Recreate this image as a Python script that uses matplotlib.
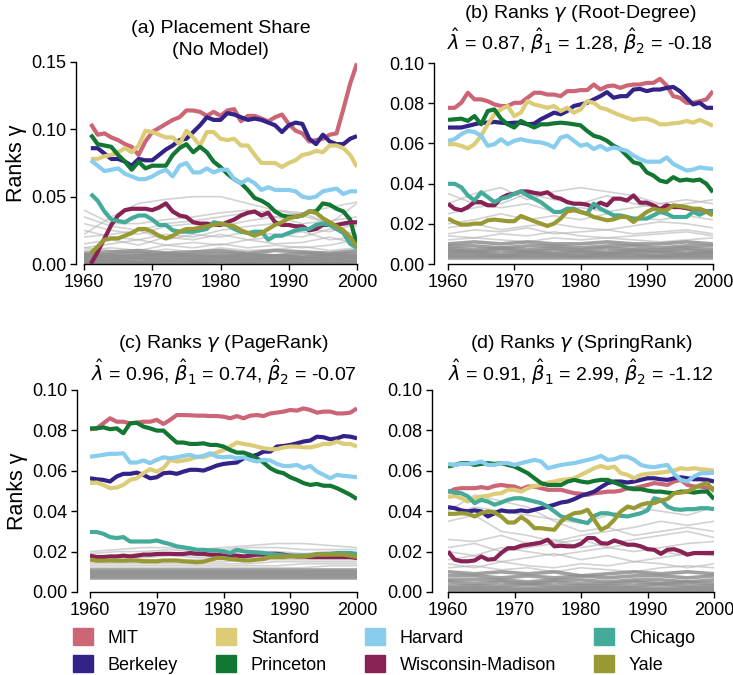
import numpy as np
import matplotlib
matplotlib.use("Agg")
import matplotlib.pyplot as plt
from matplotlib.patches import Patch

plt.rcParams['font.family'] = ['Liberation Sans', 'DejaVu Sans']
plt.rcParams['mathtext.fontset'] = 'dejavusans'

# ---------------- data ----------------
YEARS_A = list(range(1961, 2001))
YEARS = list(range(1960, 2001))
YEARS_G = list(range(1960, 2001, 4))

NAMES = ["MIT", "Berkeley", "Stanford", "Princeton", "Harvard",
         "Wisconsin-Madison", "Chicago", "Yale"]
COLORS = ["#CC6677", "#332288", "#DDCC77", "#117733", "#88CCEE",
          "#882255", "#44AA99", "#999933"]

# (a) Placement share
MIT_A = [0.104,0.096,0.097,0.094,0.092,0.089,0.087,0.081,0.091,0.098,0.101,0.104,0.107,0.109,0.114,0.114,0.113,0.110,0.113,0.110,0.114,0.115,0.106,0.110,0.110,0.108,0.106,0.109,0.111,0.104,0.099,0.097,0.091,0.092,0.093,0.096,0.097,0.115,0.134,0.149]
BER_A = [0.086,0.086,0.082,0.078,0.078,0.076,0.073,0.078,0.077,0.077,0.081,0.085,0.088,0.092,0.093,0.098,0.103,0.109,0.107,0.107,0.112,0.111,0.109,0.107,0.108,0.107,0.105,0.103,0.098,0.103,0.105,0.104,0.093,0.089,0.096,0.091,0.089,0.089,0.093,0.095]
STA_A = [0.078,0.078,0.080,0.081,0.083,0.086,0.083,0.088,0.099,0.098,0.096,0.094,0.094,0.089,0.099,0.094,0.088,0.098,0.098,0.093,0.092,0.093,0.088,0.088,0.081,0.075,0.075,0.075,0.072,0.075,0.077,0.081,0.082,0.084,0.083,0.088,0.088,0.086,0.081,0.072]
PRI_A = [0.096,0.089,0.088,0.087,0.081,0.076,0.070,0.076,0.071,0.073,0.073,0.073,0.081,0.086,0.089,0.083,0.087,0.083,0.076,0.072,0.067,0.063,0.060,0.055,0.049,0.047,0.044,0.039,0.036,0.035,0.035,0.036,0.039,0.039,0.045,0.044,0.041,0.039,0.033,0.014]
HAR_A = [0.077,0.073,0.069,0.070,0.071,0.067,0.065,0.063,0.063,0.065,0.068,0.070,0.065,0.073,0.075,0.068,0.068,0.071,0.068,0.070,0.070,0.063,0.060,0.063,0.060,0.055,0.057,0.055,0.055,0.055,0.054,0.050,0.049,0.050,0.054,0.055,0.056,0.052,0.054,0.054]
WIS_A = [0.000,0.009,0.019,0.029,0.036,0.040,0.041,0.041,0.041,0.040,0.042,0.045,0.039,0.036,0.035,0.031,0.030,0.030,0.029,0.029,0.031,0.033,0.036,0.038,0.039,0.036,0.038,0.031,0.029,0.029,0.028,0.028,0.025,0.026,0.029,0.029,0.029,0.030,0.031,0.031]
CHI_A = [0.052,0.047,0.039,0.033,0.032,0.031,0.034,0.036,0.036,0.033,0.029,0.029,0.025,0.024,0.024,0.024,0.025,0.026,0.031,0.030,0.029,0.026,0.024,0.023,0.024,0.024,0.018,0.021,0.021,0.023,0.025,0.026,0.026,0.029,0.030,0.029,0.026,0.023,0.015,0.012]
YAL_A = [0.008,0.013,0.018,0.019,0.019,0.021,0.023,0.026,0.026,0.024,0.021,0.019,0.021,0.024,0.026,0.026,0.027,0.028,0.029,0.030,0.029,0.028,0.025,0.023,0.021,0.023,0.026,0.029,0.031,0.034,0.035,0.036,0.039,0.038,0.034,0.031,0.028,0.025,0.020,0.013]

# (b) Root-Degree (per-mille)
MIT_B = [77.7,77.7,80.2,85.2,81.9,81.9,81.0,79.4,78.6,78.6,80.2,80.2,82.7,85.2,85.2,84.3,84.3,83.5,86.0,86.0,86.5,86.5,89.3,86.8,88.4,88.8,87.6,88.8,89.3,89.3,90.1,90.1,92.1,88.8,83.5,82.7,80.2,80.2,81.0,81.9,86.0]
BER_B = [67.9,67.9,67.9,68.7,69.5,70.3,70.3,70.7,70.3,70.0,70.3,70.3,69.5,69.8,72.0,73.6,75.3,74.5,76.1,78.6,79.4,80.2,81.9,83.5,85.5,82.7,83.5,83.5,86.8,87.1,86.0,86.8,86.8,87.6,88.1,86.0,82.7,79.4,80.2,77.7,77.7]
STA_B = [59.6,59.6,58.8,57.5,59.6,63.8,69.5,74.5,76.9,78.6,73.6,75.3,81.0,79.4,78.6,77.7,78.6,76.1,77.7,75.3,76.9,81.0,80.2,77.7,76.9,75.3,74.0,72.8,71.7,72.3,72.3,71.2,69.5,69.5,70.0,70.3,71.2,70.3,71.7,70.3,68.7]
PRI_B = [71.7,72.0,72.3,71.2,73.6,69.5,76.1,76.9,72.3,69.5,67.9,71.2,69.5,67.9,69.5,69.5,70.0,70.3,70.0,69.5,69.0,66.2,63.8,62.9,61.3,58.8,57.2,53.9,50.6,49.8,45.6,44.0,41.5,40.7,43.2,41.5,42.0,41.5,42.0,39.9,35.7]
HAR_B = [61.3,62.1,64.6,66.2,65.7,63.8,58.8,59.6,62.1,59.6,61.3,62.1,61.3,60.8,60.5,59.6,58.0,62.9,63.8,61.3,58.8,59.6,57.2,58.8,56.8,58.0,57.2,56.3,53.9,52.2,50.9,50.9,50.9,53.0,49.8,48.1,46.5,47.0,48.1,47.6,47.3]
WIS_B = [30.0,27.5,26.7,28.3,30.8,30.8,29.2,29.2,32.8,34.4,34.9,36.1,36.1,35.4,34.9,35.7,33.3,32.5,30.8,30.0,30.0,29.5,28.3,30.5,29.2,32.5,32.5,31.6,34.1,30.5,30.5,29.2,27.2,29.2,28.3,28.3,27.8,27.2,27.2,26.2,26.2]
CHI_B = [39.9,39.9,38.2,34.1,31.6,35.7,33.3,30.8,32.5,33.3,34.9,36.1,34.1,32.5,30.8,28.3,25.9,25.9,27.5,27.5,25.9,25.0,30.0,27.5,25.9,24.2,24.2,23.4,22.6,22.6,22.6,24.2,25.9,25.0,23.4,23.4,23.4,25.9,24.5,26.2,25.9]
YAL_B = [22.6,20.9,19.6,19.6,20.1,20.1,21.7,22.1,21.7,21.3,21.3,23.9,22.6,21.3,20.1,18.9,20.1,22.6,26.2,26.7,25.9,25.0,23.4,22.6,21.7,22.2,23.4,23.4,20.9,23.4,25.9,27.5,26.7,26.7,29.2,28.8,28.3,27.5,27.5,25.9,24.2]

# (c) PageRank (per-mille)
MIT_C = [80.6,81.0,83.5,86.0,84.3,84.3,83.5,83.8,84.3,84.3,85.2,83.2,85.2,87.6,87.6,87.5,87.3,87.3,87.1,87.1,86.8,86.0,87.1,86.0,87.3,87.6,87.1,88.4,88.8,89.3,90.1,89.8,90.9,90.1,88.8,89.3,89.3,88.4,88.4,88.8,90.9]
BER_C = [56.3,55.8,55.5,54.7,57.2,58.5,58.5,59.1,58.0,56.3,56.8,58.8,59.1,58.5,59.6,60.5,60.5,60.1,61.3,62.6,63.4,63.8,64.1,66.2,67.0,67.9,69.5,69.5,72.0,72.3,72.8,73.6,74.5,75.0,76.9,76.6,75.6,76.1,77.2,76.9,76.1]
STA_C = [53.9,54.2,53.0,51.4,51.7,53.0,55.5,56.3,58.8,60.8,59.6,61.3,65.4,64.6,65.1,65.7,67.0,66.7,67.9,69.0,70.3,72.0,74.0,73.3,72.8,72.0,71.2,70.7,70.7,71.6,72.0,72.0,71.6,71.6,72.3,73.3,73.3,74.5,73.3,73.3,72.0]
PRI_C = [81.0,81.0,81.5,80.6,81.0,78.6,83.5,83.8,81.9,81.0,79.9,79.9,76.9,74.0,74.0,73.3,73.3,73.6,72.8,72.8,72.0,70.3,69.0,69.0,67.9,66.2,64.1,61.3,59.6,58.8,56.8,55.5,53.9,53.0,53.5,52.6,52.6,51.4,49.8,48.1,46.0]
HAR_C = [67.0,67.4,67.9,68.4,68.4,68.7,64.1,64.1,65.1,63.8,65.4,66.7,66.2,66.7,67.4,67.9,66.7,67.4,68.7,67.0,66.7,67.0,66.2,66.7,65.4,64.6,65.4,65.1,63.4,62.4,62.4,62.9,61.3,62.4,59.6,58.0,56.3,58.0,57.5,57.2,56.8]
WIS_C = [18.0,17.3,17.3,17.6,17.6,18.0,17.6,18.0,18.5,18.5,18.8,18.9,18.9,18.8,18.8,19.3,18.9,18.9,18.5,18.5,18.0,18.0,18.0,17.6,18.0,18.5,18.5,18.9,18.9,18.5,18.0,17.6,17.6,17.3,17.3,17.3,17.3,17.3,17.3,17.3,16.8]
CHI_C = [29.7,29.7,28.8,27.2,26.7,27.2,25.0,25.0,25.0,25.0,25.5,24.5,23.7,22.6,22.1,21.6,20.9,20.9,20.6,20.6,20.1,19.3,20.9,20.1,19.8,19.6,19.3,18.8,18.5,18.1,18.1,18.0,18.1,18.1,18.8,18.8,18.8,19.3,19.3,19.3,18.9]
YAL_C = [16.0,15.5,15.5,15.6,15.5,15.5,15.6,15.6,15.2,15.2,15.2,15.6,15.6,15.6,15.2,15.0,14.7,15.0,16.0,16.8,16.8,16.3,16.0,15.6,15.6,16.0,16.3,17.3,17.3,17.3,17.6,17.6,17.6,18.0,18.5,18.5,18.5,18.5,18.5,18.0,17.3]

# (d) SpringRank (per-mille)
MIT_D = [49.2,50.9,51.4,51.4,51.4,51.9,51.4,52.5,53.0,52.5,52.2,50.9,52.2,52.2,51.4,50.6,50.6,50.6,49.7,48.9,48.6,48.1,48.9,49.2,49.7,49.7,50.2,51.4,51.4,52.2,53.0,53.9,53.5,53.0,54.7,55.5,53.0,52.2,52.2,51.4,51.4]
BER_D = [42.0,41.5,40.4,39.9,40.4,39.9,37.4,39.0,40.4,39.9,39.9,40.4,39.9,40.7,41.5,42.3,43.2,44.3,44.8,46.0,47.6,48.6,49.7,51.9,53.9,54.7,54.7,54.2,54.7,55.5,56.3,56.3,55.8,55.5,56.3,56.8,56.3,55.8,55.8,55.5,54.7]
STA_D = [46.9,47.6,46.4,44.8,46.4,47.3,47.6,48.6,48.9,50.6,50.6,49.7,51.4,52.5,53.0,54.2,54.7,55.5,55.8,56.3,58.0,59.6,61.3,62.4,61.3,62.1,58.8,58.0,56.3,58.0,58.5,58.8,59.1,59.6,60.1,61.3,60.8,61.3,60.8,60.5,60.1]
PRI_D = [62.1,62.9,63.8,63.8,62.9,63.4,63.8,63.4,63.8,62.9,62.1,60.5,58.8,56.3,53.9,53.0,53.0,53.0,54.7,55.5,54.7,54.2,55.0,55.5,55.5,54.2,53.0,51.4,50.9,50.9,50.2,49.7,49.7,49.2,48.9,49.7,49.7,49.2,49.7,49.7,46.0]
HAR_D = [63.4,62.9,63.4,63.4,63.8,64.6,62.9,62.9,63.8,63.8,62.9,63.8,64.6,65.4,64.6,61.3,62.1,62.9,63.4,63.8,64.6,65.4,66.2,67.4,65.4,65.7,67.0,67.0,65.4,62.9,62.1,61.8,62.4,62.9,58.5,55.5,54.7,57.2,58.8,58.8,59.1]
WIS_D = [20.1,16.0,15.2,15.2,15.6,17.6,16.0,16.3,19.3,21.7,21.7,22.9,23.4,23.9,24.5,25.9,22.6,22.9,22.6,22.6,23.9,26.7,26.7,24.2,23.9,25.5,24.5,23.4,23.4,22.6,21.2,20.9,18.9,20.9,21.2,20.1,18.5,19.3,19.3,19.3,19.3]
CHI_D = [50.2,49.2,48.9,47.3,44.0,45.6,44.8,43.2,44.3,45.6,46.4,46.4,45.6,44.8,44.0,42.3,39.9,37.4,36.6,35.7,34.9,34.1,37.7,39.0,39.0,38.2,37.7,37.4,38.2,39.0,40.4,46.4,45.6,42.3,41.0,40.7,41.0,41.0,41.5,41.5,41.0]
YAL_D = [38.7,38.7,39.0,38.7,37.4,39.0,39.9,39.4,37.4,34.4,34.4,37.1,34.9,31.6,31.6,31.1,30.8,34.9,37.4,39.0,39.4,40.7,35.7,30.8,32.4,35.7,39.9,42.3,41.5,43.2,44.0,44.0,45.3,46.0,48.9,49.2,49.7,51.4,53.0,53.9,49.7]

# background (other departments), per-mille at 4-year steps
GREY_A = [[22,35,45,48,50,50,45,40,38,42,46],[40,30,30,33,35,38,40,35,30,32,35],
          [35,28,25,30,32,35,38,40,36,30,28],[30,25,22,28,30,28,32,35,38,30,45],
          [25,20,18,22,20,25,28,30,26,24,30],[20,22,25,18,22,20,24,22,20,26,22],
          [15,18,14,20,18,22,18,20,24,18,20],[12,15,18,14,16,14,18,15,16,20,15],
          [10,12,10,14,12,15,12,14,12,14,18],[12,10,8,11,9,12,10,11,13,10,12],
          [8,9,10,8,9,10,8,10,9,8,10],[7,5,6,8,6,5,7,6,5,7,6],[6,7,8,6,7,8,7,6,8,7,8],
          [5,6,5,6,5,6,5,6,5,6,5],[4,4,5,4,4,5,4,5,4,4,5],[3,3,4,3,3,3,4,3,3,4,3],
          [2,2,2,3,2,2,2,3,2,2,2],[1,1,1,1,1,2,1,1,1,1,1],[0,0,1,0,1,0,0,1,0,0,1]]
GREY_B = [[30,35,38,32,36,38,36,34,30,32,30],[25,28,30,35,32,30,34,30,28,30,32],
          [35,30,28,30,26,28,26,28,30,27,25],[20,22,25,22,24,22,25,23,22,24,22],
          [18,20,17,19,20,18,17,19,21,20,18],[15,17,16,18,15,16,17,15,16,17,15],
          [14,13,15,14,16,14,13,14,15,16,14],[12,13,12,11,13,12,13,12,11,12,13],
          [10,11,10,11,10,10,11,10,10,11,10],[9,9,8,9,9,8,9,9,8,9,9],
          [8,7,8,7,8,7,8,7,7,8,7],[7,6,7,6,7,6,6,7,6,7,6],[6,6,5,6,5,6,5,6,6,5,6],
          [5,5,4,5,5,4,5,5,4,5,5],[4,4,4,4,4,4,4,4,4,4,4],[3,3,3,3,3,3,3,3,3,3,3]]
GREY_C = [[20,21,22,22,21,22,23,24,24,23,22],[19,20,20,21,20,21,22,22,21,21,21],
          [18,18,19,19,18,19,20,20,19,20,19],[17,17,17,18,17,18,18,18,18,18,18],
          [16,16,16,16,16,17,17,17,17,17,17],[15,15,15,15,15,15,16,16,16,16,16],
          [14,14,14,14,14,14,14,15,15,15,15],[13,13,13,13,13,13,13,13,14,14,14],
          [12,12,12,12,12,12,12,12,12,13,13],[11,11,11,11,11,11,11,11,11,11,11],
          [10,10,10,10,10,10,10,10,10,10,10],[9,9,9,9,9,9,9,9,9,9,9],
          [8,8,8,8,8,8,8,8,8,8,8],[7,7,7,7,7,7,7,7,7,7,7]]
GREY_D = [[40,48,45,42,35,30,32,28,30,32,30],[38,42,40,38,36,34,38,42,40,38,42],
          [35,38,30,28,25,28,30,32,35,33,35],[26,25,28,24,26,22,24,26,28,30,27],
          [22,24,20,22,24,26,22,20,22,24,25],[20,18,22,20,18,20,22,24,20,18,20],
          [16,18,15,17,19,16,18,15,17,19,18],[14,12,15,13,12,14,13,15,14,12,14],
          [12,13,11,12,10,12,11,10,12,13,12],[10,9,10,9,10,8,9,10,9,10,9],
          [8,8,7,8,7,8,7,8,8,7,8],[6,6,6,5,6,6,5,6,6,5,6],[5,4,5,4,5,4,4,5,4,5,4],
          [3,3,3,4,3,3,3,3,4,3,3],[2,2,2,2,2,2,2,2,2,2,2],[1,1,1,1,1,1,1,1,1,1,1],
          [0,0,0,0,0,0,0,0,0,0,0]]

TITLE1 = ["(a) Placement Share", "(b) Ranks $\\gamma$ (Root-Degree)",
          "(c) Ranks $\\gamma$ (PageRank)", "(d) Ranks $\\gamma$ (SpringRank)"]
TITLE2 = ["(No Model)",
          "$\\hat{\\lambda}$ = 0.87, $\\hat{\\beta}_1$ = 1.28, $\\hat{\\beta}_2$ = -0.18",
          "$\\hat{\\lambda}$ = 0.96, $\\hat{\\beta}_1$ = 0.74, $\\hat{\\beta}_2$ = -0.07",
          "$\\hat{\\lambda}$ = 0.91, $\\hat{\\beta}_1$ = 2.99, $\\hat{\\beta}_2$ = -1.12"]

PANELS = [
    (YEARS_A, [MIT_A, BER_A, STA_A, PRI_A, HAR_A, WIS_A, CHI_A, YAL_A], 1.0, GREY_A, 0.15, [0, 0.05, 0.10, 0.15]),
    (YEARS, [MIT_B, BER_B, STA_B, PRI_B, HAR_B, WIS_B, CHI_B, YAL_B], 1e-3, GREY_B, 0.10, [0, 0.02, 0.04, 0.06, 0.08, 0.10]),
    (YEARS, [MIT_C, BER_C, STA_C, PRI_C, HAR_C, WIS_C, CHI_C, YAL_C], 1e-3, GREY_C, 0.10, [0, 0.02, 0.04, 0.06, 0.08, 0.10]),
    (YEARS, [MIT_D, BER_D, STA_D, PRI_D, HAR_D, WIS_D, CHI_D, YAL_D], 1e-3, GREY_D, 0.10, [0, 0.02, 0.04, 0.06, 0.08, 0.10]),
]

# ---------------- figure ----------------
W, H = 733, 675
fig = plt.figure(figsize=(W / 100, H / 100), dpi=100)

# pixel boxes: left, right, bottom, top ; left-spine outward offset (px)
BOXES = [(84, 357, 264, 62, 8), (448, 713, 264, 63, 14),
         (90, 357, 592, 390, 13), (448, 714, 592, 390, 16)]
# baselines of the two title lines, in px above the axes top
TBASE = [(29, 7), (45, 13), (42, 9), (42, 9)]

for i, (box, panel) in enumerate(zip(BOXES, PANELS)):
    l, r, b, t, off = box
    ax = fig.add_axes([l / W, 1 - b / H, (r - l) / W, (b - t) / H])
    yrs, series, scale, grey, ymax, yticks = panel
    for g in grey:
        gv = np.array(g) * 1e-3
        if max(g) <= 12:
            ax.plot(YEARS_G, gv, color="#8f8f8f", lw=2.6, alpha=0.85, zorder=1,
                    solid_capstyle="butt")
        else:
            ax.plot(YEARS_G, gv, color="#b5b5b5", lw=1.2, alpha=0.6, zorder=1)
    for s, c in zip(series, COLORS):
        ax.plot(yrs, np.array(s) * scale, color=c, lw=3.0, zorder=3,
                solid_capstyle="butt")
    ax.set_xlim(1960, 2000)
    ax.set_ylim(0, ymax)
    ax.set_xticks([1960, 1970, 1980, 1990, 2000])
    ax.set_yticks(yticks)
    ax.set_yticklabels(["%.2f" % v for v in yticks])
    ax.tick_params(labelsize=13, length=4, width=1, pad=3)
    for sp in ["top", "right"]:
        ax.spines[sp].set_visible(False)
    ax.spines["left"].set_position(("outward", off * 0.72))
    ax.spines["left"].set_linewidth(1.0)
    ax.spines["bottom"].set_linewidth(1.0)
    b1, b2 = TBASE[i]
    for txt, bb in ((TITLE1[i], b1), (TITLE2[i], b2)):
        ax.annotate(txt, xy=(0.5, 1.0), xycoords="axes fraction",
                    xytext=(0, bb * 0.72), textcoords="offset points",
                    ha="center", va="baseline", fontsize=14)
    if i in (0, 2):
        ax.set_ylabel("Ranks γ", fontsize=15.5, labelpad=3)

handles = [Patch(facecolor=c, edgecolor=c, label=n) for n, c in zip(NAMES, COLORS)]
fig.legend(handles=handles, loc="upper left",
           bbox_to_anchor=(73 / W, 1 - 628 / H), ncol=4, frameon=False,
           fontsize=13, handlelength=1.1, handleheight=1.1, handletextpad=0.83,
           columnspacing=2.1, labelspacing=0.44, borderpad=0, borderaxespad=0)

fig.savefig("out.png", dpi=100)
